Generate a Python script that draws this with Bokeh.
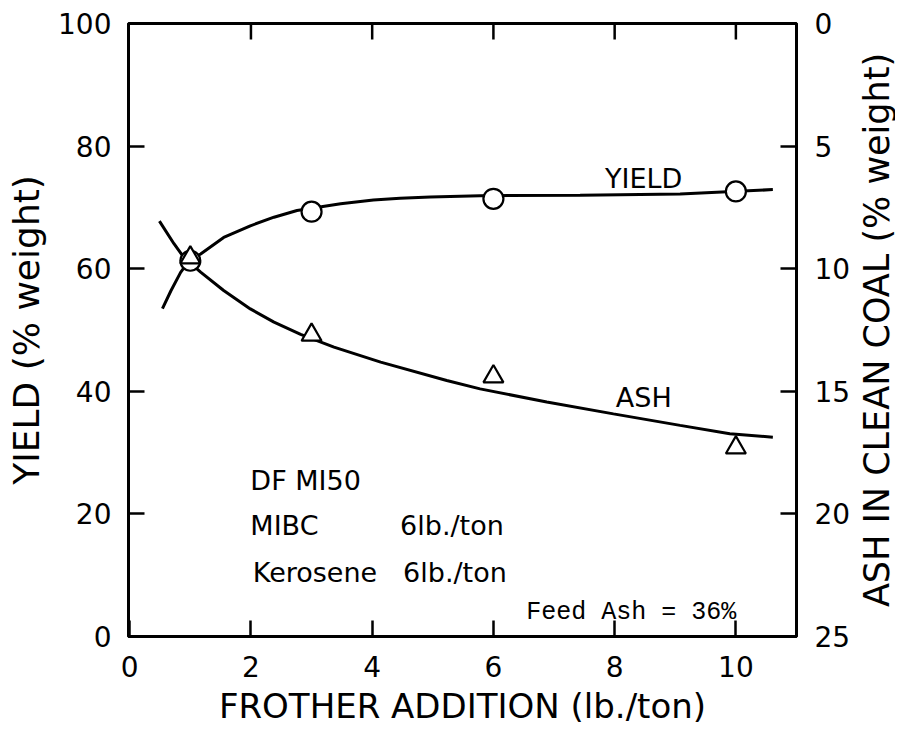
import math
from bokeh.plotting import figure
from bokeh.models import Range1d, LinearAxis, FixedTicker, Label
from bokeh.core.properties import value
from bokeh.embed import file_html
from bokeh.resources import INLINE

# ---- data ----
frother = [1, 3, 6, 10]                    # lb./ton
yield_pts = [61.3, 69.3, 71.4, 72.6]       # % weight (left axis)
ash_pts = [9.55, 12.7, 14.4, 17.3]         # % weight (right axis, inverted)

yield_curve_x = [0.54, 0.68, 0.84, 0.98, 1.17, 1.55, 1.99, 2.38, 2.76, 3.48,
                 4.02, 4.46, 4.96, 5.78, 7.43, 9.08, 10.61]
yield_curve_y = [53.5, 56.4, 59.4, 61.3, 62.4, 65.1, 67.0, 68.4, 69.5, 70.6,
                 71.2, 71.5, 71.7, 71.9, 72.0, 72.2, 72.9]

ash_curve_x = [0.49, 0.73, 0.89, 1.17, 1.55, 1.99, 2.38, 2.82, 3.37, 4.14,
               5.23, 5.78, 6.88, 7.98, 9.08, 9.9, 10.61]
ash_curve_y = [8.06, 8.98, 9.53, 10.14, 10.89, 11.64, 12.18, 12.68, 13.2, 13.81,
               14.56, 14.90, 15.44, 15.92, 16.39, 16.73, 16.87]

x_ticks = [0, 2, 4, 6, 8, 10]
yield_ticks = [0, 20, 40, 60, 80, 100]
ash_ticks = [0, 5, 10, 15, 20, 25]

x_title = "FROTHER ADDITION (lb./ton)"
yield_title = "YIELD (% weight)"
ash_title = "ASH IN CLEAN COAL (% weight)"

curve_labels = ["YIELD", "ASH"]
condition_names = ["DF MI50", "MIBC", "Kerosene"]
condition_doses = ["6lb./ton", "6lb./ton"]
feed_note = "Feed Ash = 36%"

FONT = "DejaVu Sans"

p = figure(width=895, height=729,
           x_range=Range1d(-0.02, 11.0), y_range=Range1d(0, 100),
           output_backend="svg", toolbar_location=None,
           min_border_left=128, min_border_right=99,
           min_border_top=23, min_border_bottom=93,
           background_fill_color="white", border_fill_color="white")
p.extra_y_ranges = {"ash": Range1d(start=25, end=0)}
p.grid.visible = False
p.outline_line_color = "black"
p.outline_line_width = 3


def style_axis(ax, ticks):
    ax.ticker = FixedTicker(ticks=ticks)
    ax.axis_line_color = "black"
    ax.axis_line_width = 3
    ax.major_tick_line_color = "black"
    ax.major_tick_line_width = 2.5
    ax.major_tick_in = 16
    ax.major_tick_out = 0
    ax.minor_tick_line_color = None
    ax.major_label_text_font = FONT
    ax.major_label_text_font_size = "28px"
    ax.major_label_text_color = "black"
    ax.axis_label_text_font = FONT
    ax.axis_label_text_font_style = "normal"
    ax.axis_label_text_color = "black"


# bottom axis
xa = p.xaxis[0]
style_axis(xa, x_ticks)
xa.axis_label = x_title
xa.axis_label_text_font_size = "34px"
xa.major_label_standoff = 19
xa.axis_label_standoff = 6

# left axis
ya = p.yaxis[0]
style_axis(ya, yield_ticks)
ya.axis_label = yield_title
ya.axis_label_text_font_size = "36px"
ya.major_label_standoff = 17
ya.axis_label_standoff = 8

# right axis (ash, inverted)
ra = LinearAxis(y_range_name="ash")
style_axis(ra, ash_ticks)
ra.major_label_standoff = 18
p.add_layout(ra, "right")

# right axis title, reading bottom-to-top like the left one (placed in the right panel)
p.add_layout(Label(x=23, y=306.5, x_units="screen", y_units="screen",
                   text=ash_title, angle=math.pi / 2,
                   text_align="center", text_baseline="alphabetic",
                   text_font=FONT, text_font_size="35px", text_color="black"), "right")

# top frame ticks (inward, no labels)
p.ray(x=x_ticks[1:], y=[p.y_range.end] * len(x_ticks[1:]), length=16,
      length_units="screen", angle=-math.pi / 2, line_color="black", line_width=2.5)

# curves
p.line(yield_curve_x, yield_curve_y, line_color="black", line_width=3)
p.line(ash_curve_x, ash_curve_y, line_color="black", line_width=3, y_range_name="ash")

# markers
p.scatter(frother, yield_pts, marker="circle", size=20, fill_color="white",
          line_color="black", line_width=2.2)
p.scatter(frother, ash_pts, marker="triangle", size=20, fill_color="white",
          line_color="black", line_width=2.2, y_range_name="ash")

# curve labels
p.text(x=[7.84, 8.02], y=[74.7, 39.0], text=curve_labels,
       text_font=value(FONT), text_font_size="27px", text_color="black",
       text_align="left", text_baseline="alphabetic")

# conditions block
p.text(x=[1.99, 1.99, 2.03], y=[25.4, 18.1, 10.4], text=condition_names,
       text_font=value(FONT), text_font_size="27px", text_color="black",
       text_align="left", text_baseline="alphabetic")
p.text(x=[4.46, 4.51], y=[18.1, 10.4], text=condition_doses,
       text_font=value(FONT), text_font_size="27px", text_color="black",
       text_align="left", text_baseline="alphabetic")

# feed ash note
p.text(x=[6.54], y=[3.96], text=[feed_note],
       text_font=value("Liberation Mono"), text_font_size="25px", text_color="black",
       text_align="left", text_baseline="alphabetic")

open("out.html", "w").write(file_html(p, INLINE))
